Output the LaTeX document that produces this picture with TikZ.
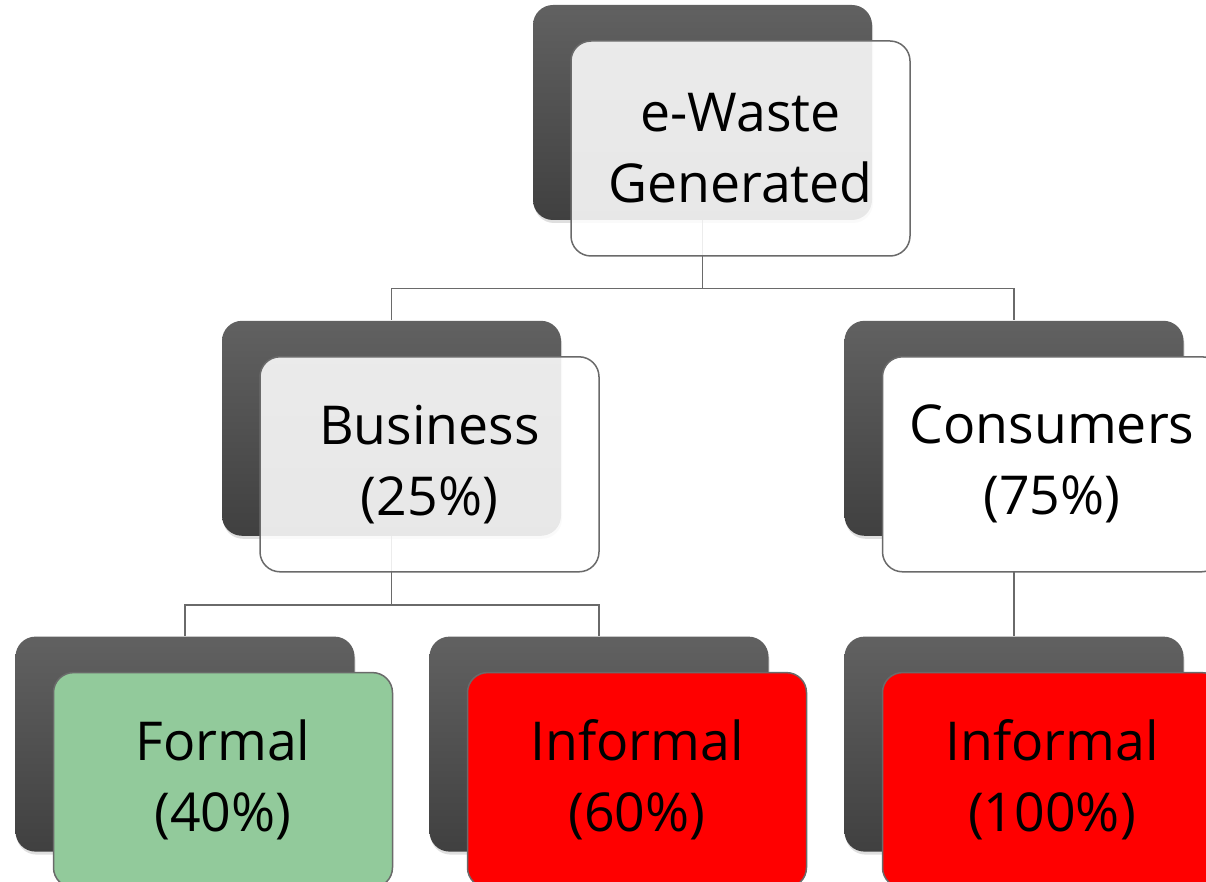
\documentclass[tikz,border=0pt]{standalone}
\usepackage{fontspec}
\setmainfont{Open Sans}
\usepackage{tikz}
\usetikzlibrary{positioning,calc,shadows}
\usepackage{xcolor}

\definecolor{backtop}{HTML}{616161}
\definecolor{backbot}{HTML}{404040}
\definecolor{edgegray}{HTML}{6A6A6A}
\definecolor{formalgreen}{HTML}{92CA9B}

\begin{document}
\begin{tikzpicture}[
    node distance=50pt,
    backbox/.style={rectangle, rounded corners=10pt, minimum width=169.5pt, minimum height=107.5pt, inner sep=0pt, top color=backtop, bottom color=backbot, drop shadow={opacity=0.25, shadow xshift=0.5pt, shadow yshift=-1.5pt}},
    frontbox/.style={rectangle, draw=edgegray, line width=0.75pt, fill=white, rounded corners=10pt, minimum width=169.5pt, minimum height=107.5pt, inner sep=2pt, text width=164pt, align=center, font=\fontsize{26.8}{35.5}\selectfont},
    glass/.style={fill opacity=0.88, text opacity=1},
    link/.style={draw=edgegray, line width=0.8pt}
]
    \useasboundingbox (0,0) rectangle (603pt,-441pt);

    % shadow boxes
    \node[backbox] (waste) at (351.25pt,-56.25pt) {};
    \node[backbox, below=of waste, xshift=-155.5pt] (business) {};
    \node[backbox, below=of waste, xshift=155.75pt] (consumers) {};
    \node[backbox, below=of business, xshift=-103.25pt] (formal) {};
    \node[backbox, below=of business, xshift=103.75pt] (informal) {};
    \node[backbox, below=of consumers] (informalc) {};

    % tree lines
    \draw[link] (waste.south) |- ($(waste.south)!0.68!(business.north)$) -| (business.north);
    \draw[link] (waste.south) |- ($(waste.south)!0.68!(consumers.north)$) -| (consumers.north);
    \draw[link] (business.south) |- ($(business.south)!0.69!(formal.north)$) -| (formal.north);
    \draw[link] (business.south) |- ($(business.south)!0.69!(informal.north)$) -| (informal.north);
    \draw[link] (consumers.south) -- (informalc.north);

    % text boxes
    \node[frontbox, glass] (wasteTop) at ($(waste)+(19pt,-18pt)$) {e-Waste\\Generated};
    \node[frontbox, glass] (businessTop) at ($(business)+(19pt,-18pt)$) {Business\\(25\%)};
    \node[frontbox] (consumersTop) at ($(consumers)+(19pt,-18pt)$) {Consumers\\(75\%)};
    \node[frontbox, fill=formalgreen] (formalTop) at ($(formal)+(19pt,-18pt)$) {Formal\\(40\%)};
    \node[frontbox, fill=red] (informalTop) at ($(informal)+(19pt,-18pt)$) {Informal\\(60\%)};
    \node[frontbox, fill=red] (informalcTop) at ($(informalc)+(19pt,-18pt)$) {Informal\\(100\%)};
\end{tikzpicture}
\end{document}
